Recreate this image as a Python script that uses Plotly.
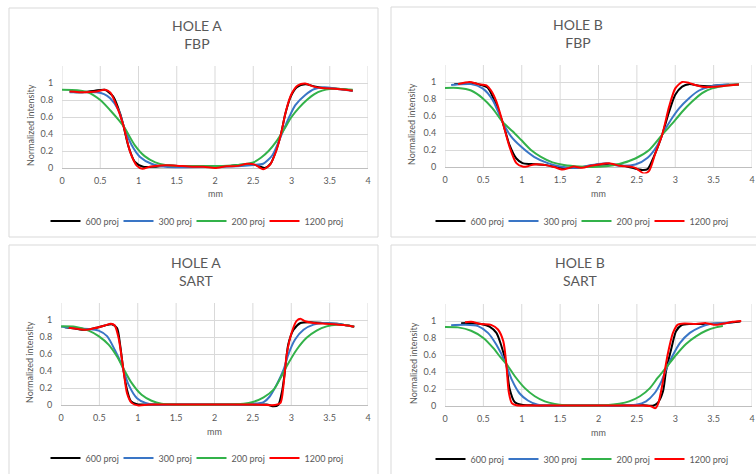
import plotly.graph_objects as go

# ---------------- data ----------------
series_names = ["600 proj", "300 proj", "200 proj", "1200 proj"]
x_tick_vals = [0, 0.5, 1, 1.5, 2, 2.5, 3, 3.5, 4]
x_tick_text = ["0", "0.5", "1", "1.5", "2", "2.5", "3", "3.5", "4"]
y_tick_vals = [0, 0.2, 0.4, 0.6, 0.8, 1]
y_tick_text = ["0", "0.2", "0.4", "0.6", "0.8", "1"]
panel_titles = ["HOLE A<br>FBP", "HOLE B<br>FBP", "HOLE A<br>SART", "HOLE B<br>SART"]

# HOLE A - FBP
a_fbp_600_x = [0.1, 0.25, 0.43, 0.56, 0.67, 0.76, 0.8, 0.87, 0.95, 1.06, 1.2, 1.4, 1.6, 1.9, 2.2, 2.45, 2.55, 2.65, 2.73, 2.8, 2.86, 2.92, 2.99, 3.07, 3.18, 3.3, 3.43, 3.64, 3.8]
a_fbp_600_y = [0.9, 0.89, 0.91, 0.92, 0.84, 0.64, 0.51, 0.25, 0.075, 0.015, 0.015, 0.03, 0.02, 0.02, 0.025, 0.045, 0.03, 0.0, 0.055, 0.21, 0.39, 0.64, 0.84, 0.95, 0.985, 0.96, 0.94, 0.93, 0.91]
a_fbp_300_x = [0.1, 0.3, 0.45, 0.55, 0.63, 0.74, 0.8, 0.91, 1.02, 1.17, 1.35, 1.6, 2.0, 2.3, 2.5, 2.63, 2.75, 2.86, 2.97, 3.05, 3.18, 3.3, 3.43, 3.6, 3.8]
a_fbp_300_y = [0.89, 0.89, 0.89, 0.87, 0.82, 0.68, 0.51, 0.27, 0.13, 0.05, 0.015, 0.01, 0.015, 0.02, 0.035, 0.05, 0.15, 0.37, 0.6, 0.74, 0.86, 0.93, 0.95, 0.93, 0.91]
a_fbp_200_x = [0, 0.2, 0.34, 0.5, 0.63, 0.74, 0.82, 0.95, 1.08, 1.22, 1.35, 1.5, 1.8, 2.1, 2.3, 2.5, 2.6, 2.7, 2.8, 2.9, 3.0, 3.1, 3.2, 3.3, 3.4, 3.5, 3.65, 3.8]
a_fbp_200_y = [0.92, 0.915, 0.89, 0.8, 0.68, 0.565, 0.47, 0.27, 0.14, 0.067, 0.035, 0.025, 0.025, 0.025, 0.035, 0.065, 0.12, 0.2, 0.31, 0.45, 0.6, 0.71, 0.8, 0.87, 0.91, 0.93, 0.93, 0.92]
a_fbp_1200_x = [0.1, 0.3, 0.45, 0.56, 0.63, 0.71, 0.8, 0.89, 0.98, 1.05, 1.15, 1.3, 1.45, 1.7, 1.85, 2.0, 2.15, 2.3, 2.42, 2.52, 2.63, 2.72, 2.8, 2.86, 2.93, 3.0, 3.08, 3.18, 3.28, 3.4, 3.6, 3.8]
a_fbp_1200_y = [0.9, 0.89, 0.9, 0.92, 0.89, 0.74, 0.51, 0.19, 0.025, -0.01, 0.015, 0.03, 0.03, 0.015, 0.015, 0.0, 0.02, 0.025, 0.05, 0.04, -0.015, 0.04, 0.2, 0.39, 0.68, 0.87, 0.97, 0.995, 0.96, 0.94, 0.93, 0.91]

# HOLE B - FBP
b_fbp_600_x = [0.12, 0.2, 0.34, 0.47, 0.56, 0.64, 0.75, 0.84, 0.93, 1.01, 1.12, 1.3, 1.5, 1.65, 1.8, 1.95, 2.1, 2.27, 2.44, 2.57, 2.64, 2.72, 2.83, 2.92, 3.0, 3.09, 3.18, 3.31, 3.44, 3.61, 3.83]
b_fbp_600_y = [0.975, 0.98, 0.99, 0.965, 0.93, 0.79, 0.53, 0.26, 0.1, 0.045, 0.035, 0.025, -0.01, -0.01, 0.0, 0.025, 0.03, 0.025, -0.01, -0.035, -0.025, 0.12, 0.38, 0.65, 0.85, 0.945, 0.975, 0.955, 0.95, 0.965, 0.97]
b_fbp_300_x = [0.08, 0.34, 0.49, 0.62, 0.75, 0.86, 0.99, 1.16, 1.34, 1.5, 1.7, 1.9, 2.1, 2.27, 2.48, 2.64, 2.77, 2.83, 2.94, 3.05, 3.18, 3.31, 3.44, 3.57, 3.7]
b_fbp_300_y = [0.965, 0.975, 0.925, 0.79, 0.53, 0.36, 0.24, 0.12, 0.045, 0.005, -0.01, 0.02, 0.045, 0.015, 0.03, 0.11, 0.26, 0.38, 0.55, 0.69, 0.81, 0.9, 0.945, 0.965, 0.97]
b_fbp_200_x = [0, 0.17, 0.34, 0.49, 0.62, 0.75, 0.88, 0.99, 1.12, 1.25, 1.4, 1.55, 1.75, 1.92, 2.1, 2.27, 2.48, 2.66, 2.83, 2.96, 3.09, 3.22, 3.35, 3.48, 3.61, 3.74, 3.83]
b_fbp_200_y = [0.93, 0.93, 0.9, 0.81, 0.69, 0.53, 0.42, 0.32, 0.2, 0.12, 0.055, 0.024, 0.005, 0.0, 0.01, 0.035, 0.1, 0.2, 0.38, 0.51, 0.65, 0.77, 0.87, 0.925, 0.95, 0.965, 0.97]
b_fbp_1200_x = [0.17, 0.32, 0.43, 0.54, 0.6, 0.67, 0.75, 0.84, 0.93, 1.01, 1.08, 1.16, 1.29, 1.42, 1.53, 1.62, 1.68, 1.79, 1.9, 2.0, 2.14, 2.27, 2.4, 2.48, 2.59, 2.66, 2.74, 2.83, 2.92, 3.0, 3.09, 3.18, 3.26, 3.39, 3.52, 3.65, 3.83]
b_fbp_1200_y = [0.975, 1.0, 0.975, 0.96, 0.9, 0.77, 0.53, 0.24, 0.045, 0.005, 0.01, 0.03, 0.025, 0.0, -0.03, -0.01, 0.005, -0.01, 0.015, 0.03, 0.045, 0.015, 0.005, -0.01, -0.075, -0.045, 0.16, 0.38, 0.71, 0.925, 1.0, 0.99, 0.965, 0.94, 0.945, 0.955, 0.97]

# HOLE A - SART
a_sart_600_x = [0.05, 0.18, 0.31, 0.44, 0.57, 0.66, 0.73, 0.77, 0.81, 0.86, 0.91, 0.99, 1.2, 1.6, 2.0, 2.4, 2.68, 2.77, 2.83, 2.88, 2.92, 2.96, 3.03, 3.12, 3.25, 3.42, 3.59, 3.82]
a_sart_600_y = [0.915, 0.9, 0.885, 0.905, 0.935, 0.95, 0.905, 0.71, 0.435, 0.18, 0.045, 0.01, 0.005, 0.005, 0.005, 0.005, 0.005, -0.015, 0.0, 0.16, 0.415, 0.71, 0.885, 0.965, 0.975, 0.965, 0.955, 0.92]
a_sart_300_x = [0, 0.18, 0.36, 0.49, 0.6, 0.7, 0.79, 0.88, 0.99, 1.1, 1.23, 1.5, 2.0, 2.5, 2.64, 2.72, 2.81, 2.9, 2.96, 3.05, 3.16, 3.29, 3.42, 3.59, 3.82]
a_sart_300_y = [0.925, 0.905, 0.895, 0.875, 0.81, 0.65, 0.475, 0.24, 0.08, 0.025, 0.005, 0.005, 0.005, 0.015, 0.035, 0.1, 0.24, 0.415, 0.59, 0.77, 0.885, 0.945, 0.965, 0.955, 0.92]
a_sart_200_x = [0, 0.18, 0.36, 0.49, 0.62, 0.73, 0.81, 0.92, 1.05, 1.18, 1.31, 1.5, 2.0, 2.38, 2.5, 2.64, 2.77, 2.85, 2.94, 3.07, 3.2, 3.33, 3.46, 3.59, 3.7, 3.82]
a_sart_200_y = [0.925, 0.92, 0.875, 0.81, 0.71, 0.57, 0.435, 0.26, 0.12, 0.05, 0.015, 0.005, 0.005, 0.015, 0.035, 0.09, 0.18, 0.3, 0.455, 0.65, 0.79, 0.875, 0.925, 0.945, 0.94, 0.92]
a_sart_1200_x = [0.1, 0.18, 0.31, 0.44, 0.57, 0.65, 0.7, 0.75, 0.81, 0.86, 0.92, 1.01, 1.14, 1.5, 2.0, 2.5, 2.79, 2.86, 2.9, 2.94, 3.01, 3.07, 3.12, 3.18, 3.29, 3.46, 3.68, 3.82]
a_sart_1200_y = [0.91, 0.9, 0.885, 0.905, 0.935, 0.955, 0.935, 0.79, 0.435, 0.14, 0.025, -0.005, 0.005, 0.005, 0.005, 0.005, 0.0, 0.025, 0.24, 0.59, 0.865, 0.99, 1.015, 0.985, 0.965, 0.955, 0.94, 0.92]

# HOLE B - SART
b_sart_600_x = [0.21, 0.34, 0.47, 0.58, 0.67, 0.73, 0.8, 0.84, 0.91, 1.0, 1.13, 1.5, 2.0, 2.58, 2.71, 2.77, 2.84, 2.88, 2.95, 3.01, 3.08, 3.19, 3.36, 3.58, 3.85]
b_sart_600_y = [0.975, 0.975, 0.965, 0.935, 0.86, 0.72, 0.485, 0.21, 0.045, 0.015, 0.008, 0.005, 0.005, 0.008, 0.004, 0.035, 0.17, 0.41, 0.68, 0.88, 0.95, 0.965, 0.965, 0.97, 0.995]
b_sart_300_x = [0.08, 0.26, 0.43, 0.56, 0.67, 0.78, 0.87, 0.97, 1.08, 1.21, 1.4, 1.8, 2.2, 2.49, 2.62, 2.73, 2.82, 2.88, 2.97, 3.06, 3.19, 3.32, 3.45, 3.58, 3.75]
b_sart_300_y = [0.95, 0.955, 0.94, 0.86, 0.72, 0.525, 0.31, 0.15, 0.065, 0.015, 0.005, 0.005, 0.005, 0.015, 0.055, 0.15, 0.29, 0.43, 0.6, 0.74, 0.86, 0.925, 0.965, 0.975, 0.985]
b_sart_200_x = [0, 0.17, 0.34, 0.5, 0.63, 0.73, 0.8, 0.91, 1.04, 1.17, 1.3, 1.43, 1.56, 1.8, 2.1, 2.27, 2.4, 2.54, 2.67, 2.77, 2.88, 3.01, 3.14, 3.27, 3.4, 3.53, 3.62]
b_sart_200_y = [0.93, 0.925, 0.885, 0.8, 0.68, 0.565, 0.495, 0.35, 0.21, 0.115, 0.055, 0.025, 0.01, 0.005, 0.01, 0.027, 0.055, 0.115, 0.21, 0.33, 0.45, 0.6, 0.73, 0.82, 0.885, 0.925, 0.94]
b_sart_1200_x = [0.26, 0.34, 0.47, 0.6, 0.69, 0.76, 0.8, 0.83, 0.87, 0.93, 1.1, 1.5, 2.0, 2.58, 2.69, 2.74, 2.78, 2.84, 2.9, 2.97, 3.03, 3.12, 3.27, 3.4, 3.53, 3.66, 3.75, 3.86]
b_sart_1200_y = [0.985, 0.99, 0.965, 0.955, 0.9, 0.76, 0.485, 0.17, 0.035, 0.008, 0.005, 0.005, 0.005, 0.005, -0.005, -0.025, 0.035, 0.29, 0.6, 0.86, 0.955, 0.97, 0.965, 0.975, 0.955, 0.975, 0.99, 1.0]

panel_data = [
    [(a_fbp_600_x, a_fbp_600_y), (a_fbp_300_x, a_fbp_300_y), (a_fbp_200_x, a_fbp_200_y), (a_fbp_1200_x, a_fbp_1200_y)],
    [(b_fbp_600_x, b_fbp_600_y), (b_fbp_300_x, b_fbp_300_y), (b_fbp_200_x, b_fbp_200_y), (b_fbp_1200_x, b_fbp_1200_y)],
    [(a_sart_600_x, a_sart_600_y), (a_sart_300_x, a_sart_300_y), (a_sart_200_x, a_sart_200_y), (a_sart_1200_x, a_sart_1200_y)],
    [(b_sart_600_x, b_sart_600_y), (b_sart_300_x, b_sart_300_y), (b_sart_200_x, b_sart_200_y), (b_sart_1200_x, b_sart_1200_y)],
]

# ---------------- styling / layout ----------------
W, H = 756, 474
colors = ["#000000", "#3A76C6", "#33B24A", "#FF0000"]
FONT = "Lato, 'Open Sans', sans-serif"
TXT = "#595959"
GRID = "#D9D9D9"

Y_LO, Y_HI, UNIT = -0.075, 1.2, 85.0

# per panel geometry in pixels
geo = [
    dict(box=(9, 8, 378, 237), px=(62, 368), y0=168, title=(197, 34), mm=193, ytitle=(30, 125), leg=(197, 221)),
    dict(box=(391, 7, 760, 237), px=(445, 752), y0=167, title=(578, 33), mm=193, ytitle=(411, 124), leg=(582, 221)),
    dict(box=(9, 245, 378, 480), px=(61, 368), y0=405, title=(196, 271), mm=431, ytitle=(29, 362), leg=(197, 458)),
    dict(box=(391, 245, 760, 480), px=(445, 752), y0=406, title=(580, 271), mm=432, ytitle=(413, 363), leg=(582, 459)),
]
ENTRY_W = 28
LEG_SHIFT = 31  # legend box includes an empty trailing slot so the last label is not clipped

def fx(p):
    return p / W

def fy(p):
    return 1 - p / H

fig = go.Figure()
shapes = []
annotations = []
layout = dict(
    width=W, height=H, margin=dict(l=0, r=0, t=0, b=0, autoexpand=False),
    paper_bgcolor="white", plot_bgcolor="white",
    font=dict(family=FONT, color=TXT, size=9),
    showlegend=True,
)

for i, g in enumerate(geo):
    k = "" if i == 0 else str(i + 1)
    xa, ya = "x" + k, "y" + k
    leg = "legend" + k
    top_px = g["y0"] - Y_HI * UNIT
    bot_px = g["y0"] - Y_LO * UNIT
    layout["xaxis" + k] = dict(
        domain=[fx(g["px"][0]), fx(g["px"][1])], range=[0, 4], anchor=ya,
        tickvals=x_tick_vals, ticktext=x_tick_text, showgrid=False, zeroline=False,
        showline=False, ticks="", tickfont=dict(size=9, color=TXT, family=FONT),
    )
    layout["yaxis" + k] = dict(
        domain=[fy(bot_px), fy(top_px)], range=[Y_LO, Y_HI], anchor=xa,
        tickvals=y_tick_vals, ticktext=y_tick_text, showgrid=True, gridcolor=GRID, gridwidth=1,
        zeroline=True, zerolinecolor="#BFBFBF", zerolinewidth=1, showline=False,
        ticks="outside", ticklen=6, tickcolor="rgba(0,0,0,0)",
        tickfont=dict(size=9, color=TXT, family=FONT),
    )
    # vertical gridlines from 0 to top of plot area
    for xv in x_tick_vals:
        shapes.append(dict(type="line", xref=xa, yref=ya, x0=xv, x1=xv, y0=0, y1=Y_HI,
                           line=dict(color=GRID, width=1), layer="below"))
    # chart border box
    b = g["box"]
    shapes.append(dict(type="rect", xref="paper", yref="paper",
                       x0=fx(b[0]), x1=fx(b[2]), y0=fy(b[3]), y1=fy(b[1]),
                       line=dict(color="#D9D9D9", width=1), fillcolor="rgba(0,0,0,0)", layer="below"))
    # title
    annotations.append(dict(text=panel_titles[i], xref="paper", yref="paper",
                            x=fx(g["title"][0]), y=fy(g["title"][1]), xanchor="center", yanchor="middle",
                            showarrow=False, font=dict(size=14, color=TXT, family=FONT)))
    # x axis title
    annotations.append(dict(text="mm", xref="paper", yref="paper",
                            x=fx((g["px"][0] + g["px"][1]) / 2), y=fy(g["mm"]), xanchor="center", yanchor="middle",
                            showarrow=False, font=dict(size=9, color=TXT, family=FONT)))
    # y axis title
    annotations.append(dict(text="Normalized intensity", xref="paper", yref="paper",
                            x=fx(g["ytitle"][0]), y=fy(g["ytitle"][1]), xanchor="center", yanchor="middle",
                            textangle=-90, showarrow=False, font=dict(size=9, color=TXT, family=FONT)))
    # legend
    layout[leg] = dict(orientation="h", xref="container", yref="container",
                       x=fx(g["leg"][0] + LEG_SHIFT), y=fy(g["leg"][1]),
                       xanchor="center", yanchor="middle",
                       bgcolor="rgba(0,0,0,0)", font=dict(size=9, color=TXT, family=FONT),
                       itemwidth=30, entrywidth=ENTRY_W, entrywidthmode="pixels",
                       tracegroupgap=0, itemclick=False, itemdoubleclick=False)
    for j, (xs, ys) in enumerate(panel_data[i]):
        fig.add_trace(go.Scatter(
            x=xs, y=ys, mode="lines", name=series_names[j],
            line=dict(color=colors[j], width=2, shape="spline", smoothing=0.7),
            xaxis=xa, yaxis=ya, legend=leg, hoverinfo="skip",
        ))
    # empty, invisible legend slot (room for the last label)
    fig.add_trace(go.Scatter(
        x=[None], y=[None], mode="lines", name=" ",
        line=dict(color="rgba(0,0,0,0)", width=2),
        xaxis=xa, yaxis=ya, legend=leg, hoverinfo="skip",
    ))

layout["shapes"] = shapes
layout["annotations"] = annotations
fig.update_layout(**layout)
fig.write_html("out.html", config={"displayModeBar": False, "staticPlot": True},
               post_script="document.body.style.margin='0';document.body.style.overflow='hidden';")
